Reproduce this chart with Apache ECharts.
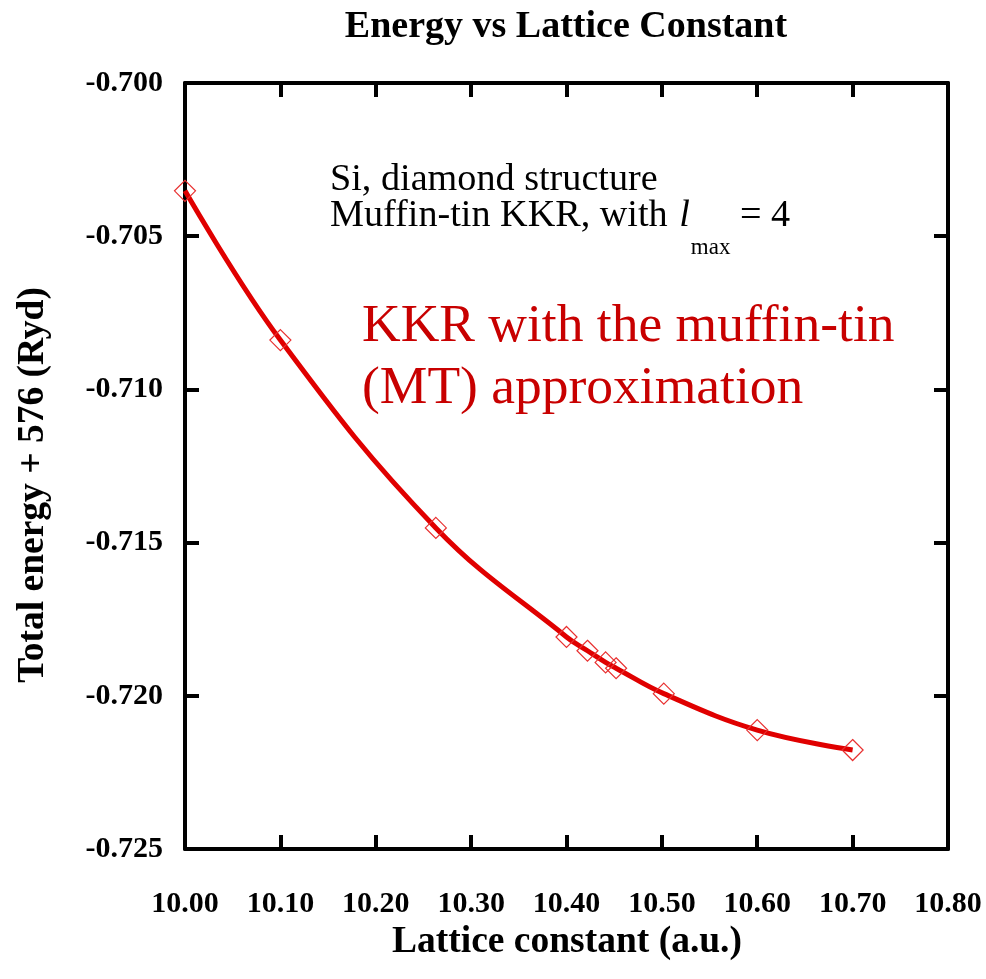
<!DOCTYPE html>
<html>
<head>
<meta charset="utf-8">
<script src="https://cdn.jsdelivr.net/npm/echarts@6/dist/echarts.min.js"></script>
<style>
  html, body { margin: 0; padding: 0; background: #fff; }
  #chart { width: 986px; height: 979px; }
</style>
</head>
<body>
<div id="chart"></div>
<script>
// Lattice constant (a.u.) and total energy + 576 (Ryd), muffin-tin KKR for Si
const latticeConstants = [10.00, 10.10, 10.263, 10.40, 10.422, 10.441, 10.452, 10.502, 10.60, 10.70];
const totalEnergies = [-0.70352, -0.70839, -0.71452, -0.71808, -0.71853, -0.71891, -0.71910, -0.71993, -0.72112, -0.72177];

const xTicks = { min: 10.0, max: 10.8, step: 0.1 };
const yTicks = { min: -0.725, max: -0.700, step: 0.005 };

const points = latticeConstants.map((x, i) => [x, totalEnergies[i]]);

const serif = '"Liberation Serif", "Times New Roman", serif';
const frameLine = { show: true, lineStyle: { color: '#000', width: 4 } };
const innerTick = { show: true, inside: true, length: 14, lineStyle: { color: '#000', width: 4 } };

// text metrics so the subscripted l_max line flows naturally
const measureCtx = document.createElement('canvas').getContext('2d');
function textWidth(str, font) { measureCtx.font = font; return measureCtx.measureText(str).width; }
const noteFont = '38.2px ' + serif;
const noteItalic = 'italic 38.2px ' + serif;
const subFont = '23px ' + serif;
const noteX = 330;
const lead = 'Muffin-tin KKR, with ';
const lX = noteX + textWidth(lead, noteFont) + 2;
const maxX = lX + textWidth('l', noteItalic) + 1;
const eqX = maxX + textWidth('max', subFont);

const chart = echarts.init(document.getElementById('chart'), null, { renderer: 'canvas' });

chart.setOption({
  animation: false,
  backgroundColor: '#fff',
  grid: { left: 185, top: 83, right: 38, bottom: 130, containLabel: false, outerBoundsMode: 'none' },
  xAxis: [
    {
      type: 'value', position: 'bottom',
      min: xTicks.min, max: xTicks.max, interval: xTicks.step,
      axisLine: frameLine, axisTick: innerTick, splitLine: { show: false },
      axisLabel: {
        margin: 40, color: '#000', fontFamily: serif, fontWeight: 'bold', fontSize: 30,
        formatter: v => v.toFixed(2)
      }
    },
    {
      type: 'value', position: 'top',
      min: xTicks.min, max: xTicks.max, interval: xTicks.step,
      axisLine: frameLine, axisTick: innerTick, axisLabel: { show: false }, splitLine: { show: false }
    }
  ],
  yAxis: [
    {
      type: 'value', position: 'left',
      min: yTicks.min, max: yTicks.max, interval: yTicks.step,
      axisLine: frameLine, axisTick: innerTick, splitLine: { show: false },
      axisLabel: {
        margin: 22, color: '#000', fontFamily: serif, fontWeight: 'bold', fontSize: 30,
        formatter: v => v.toFixed(3)
      }
    },
    {
      type: 'value', position: 'right',
      min: yTicks.min, max: yTicks.max, interval: yTicks.step,
      axisLine: frameLine, axisTick: innerTick, axisLabel: { show: false }, splitLine: { show: false }
    }
  ],
  series: [
    {
      type: 'line',
      data: points,
      smooth: 0.4,
      lineStyle: { color: '#e00000', width: 5 },
      symbol: 'diamond',
      symbolSize: 21,
      showAllSymbol: true,
      itemStyle: { color: 'rgba(255,255,255,0)', borderColor: '#e83030', borderWidth: 1.2 },
      z: 3
    }
  ],
  graphic: [
    {
      type: 'text', x: 566, y: 27,
      style: {
        text: 'Energy vs Lattice Constant', fill: '#000',
        font: 'bold 38px ' + serif, textAlign: 'center', textVerticalAlign: 'middle'
      }
    },
    {
      type: 'text', x: 567, y: 942,
      style: {
        text: 'Lattice constant (a.u.)', fill: '#000',
        font: 'bold 37.5px ' + serif, textAlign: 'center', textVerticalAlign: 'middle'
      }
    },
    {
      type: 'text', x: 33, y: 485, rotation: Math.PI / 2,
      style: {
        text: 'Total energy + 576 (Ryd)', fill: '#000',
        font: 'bold 37.5px ' + serif, textAlign: 'center', textVerticalAlign: 'middle'
      }
    },
    {
      type: 'text', x: noteX, y: 180,
      style: { text: 'Si, diamond structure', fill: '#000', font: noteFont, textVerticalAlign: 'middle' }
    },
    {
      type: 'text', x: noteX, y: 216,
      style: { text: lead, fill: '#000', font: noteFont, textVerticalAlign: 'middle' }
    },
    {
      type: 'text', x: lX, y: 216,
      style: { text: 'l', fill: '#000', font: noteItalic, textVerticalAlign: 'middle' }
    },
    {
      type: 'text', x: maxX, y: 248,
      style: { text: 'max', fill: '#000', font: subFont, textVerticalAlign: 'middle' }
    },
    {
      type: 'text', x: eqX, y: 216,
      style: { text: ' = 4', fill: '#000', font: noteFont, textVerticalAlign: 'middle' }
    },
    {
      type: 'text', x: 362, y: 327,
      style: { text: 'KKR with the muffin-tin', fill: '#c80000', font: '53.5px ' + serif, textVerticalAlign: 'middle' }
    },
    {
      type: 'text', x: 362, y: 389,
      style: { text: '(MT) approximation', fill: '#c80000', font: '53.5px ' + serif, textVerticalAlign: 'middle' }
    }
  ]
});
</script>
</body>
</html>
